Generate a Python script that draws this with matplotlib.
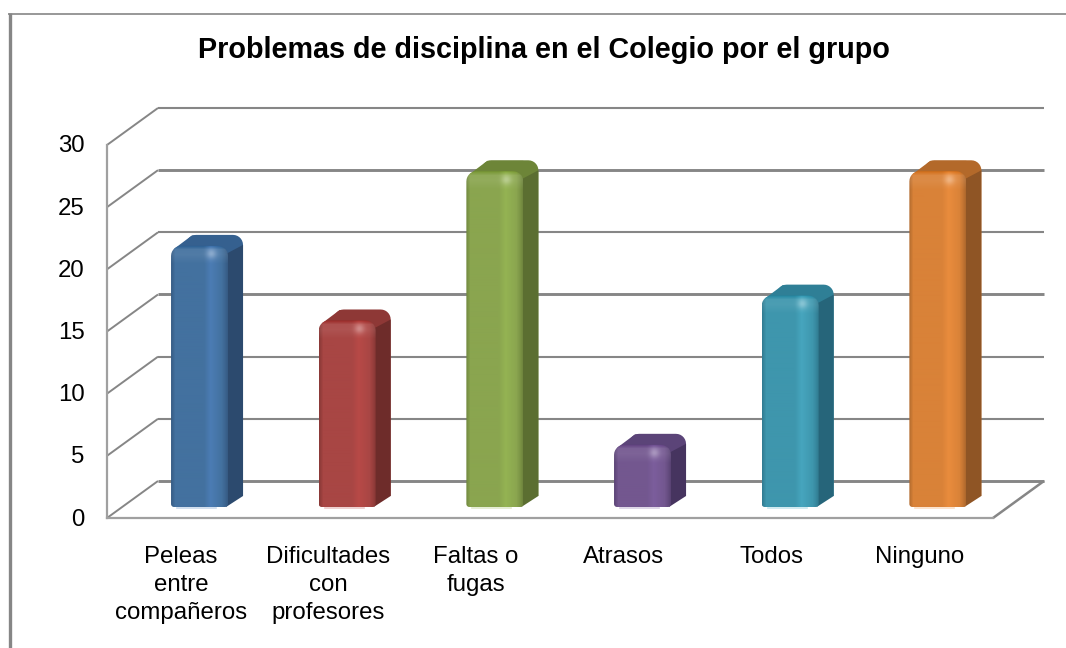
import matplotlib
matplotlib.use("Agg")
import matplotlib.pyplot as plt
from matplotlib.colors import to_rgb
from matplotlib.lines import Line2D
from matplotlib.patches import Polygon, PathPatch
from matplotlib.path import Path
from matplotlib.transforms import ScaledTranslation
import numpy as np

# --- DATA ---
categories = ["Peleas\nentre\ncompañeros", "Dificultades\ncon\nprofesores",
              "Faltas o\nfugas", "Atrasos", "Todos", "Ninguno"]
values = [21, 15, 27, 5, 17, 27]
y_ticks = [0, 5, 10, 15, 20, 25, 30]
title = "Problemas de disciplina en el Colegio por el grupo"

main_colors = ["#43719F", "#A84644", "#8AA54F", "#73578F", "#3E96AD", "#D98238"]
high_colors = ["#4F81BD", "#BE4B48", "#98B954", "#7F60A2", "#4AACC5", "#F0903F"]
side_colors = ["#2C4A6E", "#6E2C2A", "#5B6E31", "#46345F", "#26657A", "#8F5525"]
top_colors = ["#35608F", "#8E3836", "#6D8538", "#5B4478", "#2F7F96", "#B3692A"]

GRID = "#868686"
PX_X = 147.67   # pixels per category
PX_Y = 12.43    # pixels per value unit

plt.rcParams['font.family'] = ['Liberation Sans', 'DejaVu Sans']

fig = plt.figure(figsize=(10.66, 6.48), dpi=100)
ax = fig.add_axes([107 / 1066, 130 / 648, 886 / 1066, 373 / 648])
ax.patch.set_visible(False)
xlim = (-0.5, 5.5)
ylim = (0, 30)


def rounded_rect(x0, x1, y0, y1, r_top, r_bot):
    """Closed outline of a rect, corner radius given in pixels."""
    pts = []
    t = np.linspace(0, np.pi / 2, 8)
    corners = [(x0, y0, np.pi, r_bot), (x1, y0, 1.5 * np.pi, r_bot),
               (x1, y1, 0, r_top), (x0, y1, 0.5 * np.pi, r_top)]
    signs = [(1, 1), (-1, 1), (-1, -1), (1, -1)]
    for (cx, cy, start, r), (sx, sy) in zip(corners, signs):
        rx, ry = r / PX_X, r / PX_Y
        for a in t:
            pts.append((cx + sx * rx + rx * np.cos(start + a),
                        cy + sy * ry + ry * np.sin(start + a)))
    return np.array(pts)


def front_image(i, height_px):
    """Shading of the front of a bar, rows go top to bottom."""
    main = np.array(to_rgb(main_colors[i]))
    high = np.array(to_rgb(high_colors[i]))
    side = np.array(to_rgb(side_colors[i]))
    n_x = 57
    n_y = int(height_px)
    stops = [0, 0.07, 0.58, 0.7, 0.86, 0.95, 1]
    weights = [0.5, 0, 0, -0.7, -0.15, 0.25, 0.55]
    w = np.interp(np.linspace(0, 1, n_x), stops, weights)
    img = np.zeros((n_y, n_x, 3))
    for c in range(3):
        img[:, :, c] = np.where(w >= 0,
                                main[c] + (side[c] - main[c]) * w,
                                main[c] + (high[c] - main[c]) * -w)
    # bevel along the top of the bar
    rows = np.arange(n_y)
    bevel = np.interp(rows, [0, 4, 9, 18], [-0.25, 0.1, 0.12, 0])
    img = img + bevel[:, None, None] * 0.6 * (1 - img)
    # bright spot in the right corner of the bevel
    yy, xx = np.mgrid[0:n_y, 0:n_x]
    spot = np.exp(-((xx - 40) ** 2 + (yy - 8) ** 2) / 25.0)
    img = img + spot[:, :, None] * 0.3 * (1 - img)
    return np.clip(img, 0, 1)


# --- WALLS ---
wall_dx = 51 / PX_X
wall_dy = 37 / PX_Y
for v in y_ticks:
    lw = 2.1 if v in (0, 15, 25) else 1.5
    ax.plot([xlim[0], xlim[0] + wall_dx], [v, v + wall_dy], color=GRID, lw=1.4,
            clip_on=False, zorder=1, solid_capstyle="butt")
    ax.plot([xlim[0] + wall_dx, xlim[1] + wall_dx], [v + wall_dy, v + wall_dy],
            color=GRID, lw=lw, clip_on=False, zorder=1, solid_capstyle="butt")
ax.plot([xlim[1], xlim[1] + wall_dx], [0, wall_dy], color=GRID, lw=1.8,
        clip_on=False, zorder=1, solid_capstyle="butt")

# --- BARS ---
bar_w = 57 / PX_X
front_dx = 18.7 / PX_X
front_dy = 11 / PX_Y
side_dx = 15 / PX_X
side_dy = 11 / PX_Y

for i, v in enumerate(values):
    x0 = i + front_dx - bar_w / 2
    x1 = x0 + bar_w
    y0 = front_dy
    y1 = front_dy + v

    # side face and top as one dark shape behind the front
    back = rounded_rect(x0 + side_dx, x1 + side_dx, y0 + side_dy, y1 + side_dy, 10, 0)
    ax.add_patch(Polygon(back, closed=True, fc=top_colors[i], ec="none", zorder=3))
    ax.add_patch(Polygon([(x0 + 3 / PX_X, y1 - 3 / PX_Y), (x0 + side_dx + 6 / PX_X, y1 + side_dy - 0.5 / PX_Y),
                          (x1, y1 + side_dy - 0.5 / PX_Y), (x1 - 6 / PX_X, y1 - 3 / PX_Y)],
                         closed=True, fc=top_colors[i], ec="none", zorder=3))
    ax.add_patch(Polygon([(x1 - 2 / PX_X, y0), (x1 + side_dx, y0 + side_dy),
                          (x1 + side_dx, y1 + side_dy - 10 / PX_Y), (x1 - 2 / PX_X, y1 - 8 / PX_Y)],
                         closed=True, fc=side_colors[i], ec="none", zorder=3))

    # front face with gradient, clipped to rounded outline
    outline = rounded_rect(x0, x1, y0, y1, 10, 3)
    clip = PathPatch(Path(np.vstack([outline, outline[0]]), closed=True),
                     fc="none", ec="none", transform=ax.transData, zorder=4)
    ax.add_patch(clip)
    im = ax.imshow(front_image(i, v * PX_Y), extent=(x0, x1, y0, y1), aspect="auto",
                   interpolation="bilinear", origin="upper", zorder=4)
    im.set_clip_path(clip)

    # pale reflection under the bar
    ax.plot([x0 + 6 / PX_X, x1 - 12 / PX_X], [y0 - 0.08, y0 - 0.08],
            color=high_colors[i], alpha=0.3, lw=1.2, clip_on=False, zorder=3)

# --- AXES ---
ax.set_xlim(*xlim)
ax.set_ylim(*ylim)
ax.set_xticks(range(len(categories)))
ax.set_xticklabels(categories, fontsize=17.3, linespacing=1.33, color="black")
ax.set_yticks(y_ticks)
ax.set_yticklabels([str(v) for v in y_ticks], fontsize=17.3, color="black")
ax.tick_params(axis="x", length=0, pad=20.5)
ax.tick_params(axis="y", length=0, pad=16)
for label in ax.get_yticklabels():
    label.set_transform(label.get_transform() + ScaledTranslation(0, 1 / 100, fig.dpi_scale_trans))
for name in ("top", "right"):
    ax.spines[name].set_visible(False)
for name in ("left", "bottom"):
    ax.spines[name].set_color("#A0A0A0")
    ax.spines[name].set_linewidth(1.6)

fig.text(544 / 1066, 1 - 50 / 648, title, ha="center", va="center",
         fontsize=20.7, fontweight="bold", color="black")

# chart frame
fig.add_artist(Line2D([9.5 / 1066, 9.5 / 1066], [0, 1 - 13 / 648], color=GRID, lw=2.4,
                      solid_capstyle="butt"))
fig.add_artist(Line2D([8 / 1066, 1], [1 - 13.5 / 648, 1 - 13.5 / 648], color=GRID, lw=1.2,
                      solid_capstyle="butt"))

fig.savefig("out.png", dpi=100)
